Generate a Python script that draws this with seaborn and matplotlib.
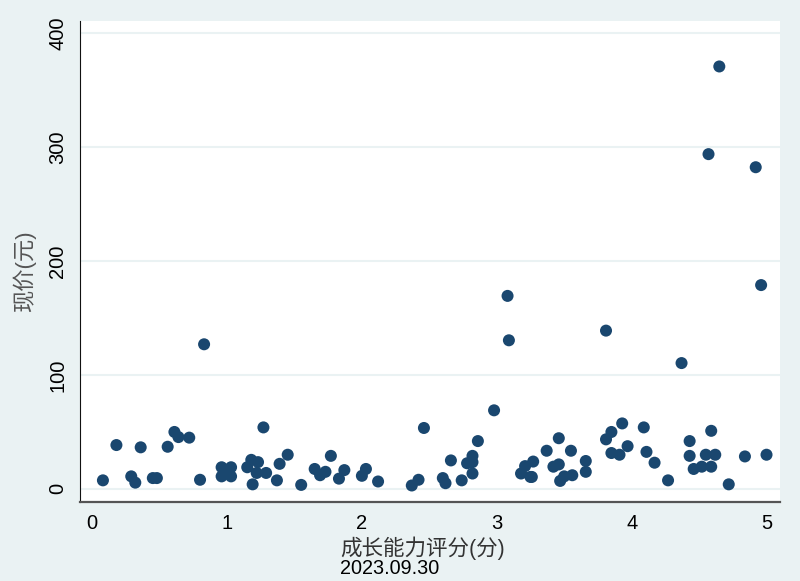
import pandas as pd
import seaborn as sns
import matplotlib.pyplot as plt

# 成长能力评分 vs 现价
score = [0.08, 0.18, 0.29, 0.32, 0.36, 0.45, 0.48, 0.56, 0.61, 0.64, 0.72, 0.80, 0.83,
         0.96, 1.03, 0.96, 1.03, 1.00, 1.15, 1.18, 1.23, 1.19, 1.22, 1.29, 1.27, 1.39,
         1.37, 1.45, 1.55, 1.65, 1.69, 1.73, 1.77, 1.83, 1.87, 2.00, 2.03, 2.12,
         2.37, 2.42, 2.46, 2.60, 2.62, 2.66, 2.74, 2.78, 2.82, 2.82, 2.82, 2.86,
         2.98, 3.08, 3.09, 3.18, 3.21, 3.25, 3.27, 3.26, 3.37, 3.42, 3.46, 3.46,
         3.47, 3.50, 3.56, 3.55, 3.66, 3.66, 3.81, 3.81, 3.85, 3.85, 3.91, 3.93,
         3.97, 4.09, 4.11, 4.17, 4.27, 4.37, 4.43, 4.43, 4.46, 4.52, 4.59, 4.55,
         4.62, 4.59, 4.72, 4.84, 5.00, 4.65, 4.57, 4.92, 4.96]
price = [7.5, 38.5, 11, 5.5, 36.5, 9.5, 9.5, 37, 50, 45.5, 45, 8, 127,
         19, 19, 11, 11, 15, 19, 25.5, 23.5, 4, 14, 14, 54, 22,
         7.5, 30, 3.5, 17.5, 12, 15, 29, 9, 16.5, 11.5, 17.5, 6.5,
         3, 8, 53.5, 9.5, 5, 25, 7.5, 22.5, 29, 23.5, 13.5, 42,
         69, 169.5, 130.5, 13.5, 20, 10.5, 24, 10.5, 33.5, 19.5, 21.5, 44.5,
         7, 11, 12, 33.5, 24.5, 15, 139, 43.5, 50, 31.5, 30, 57.5,
         37.5, 54, 32.5, 23, 7.5, 110.5, 42, 29, 17.5, 19.5, 19.5, 30,
         30, 51, 4, 28.5, 30, 371, 294, 282.5, 179]

df = pd.DataFrame({'score': score, 'price': price})

sns.set_style('white')
plt.rcParams['font.family'] = ['Liberation Sans', 'Noto Sans CJK SC', 'DejaVu Sans']

fig = plt.figure(figsize=(8, 5.81), dpi=100, facecolor='#EAF2F3')
ax = fig.add_axes([0.1, 0.136, 0.875, 0.828])
ax.set_facecolor('white')

sns.scatterplot(data=df, x='score', y='price', color='#1A476F', s=75,
                edgecolor='none', linewidth=0, ax=ax)

ax.set_xlim(-0.09, 5.1)
ax.set_ylim(-11.5, 411)
ax.set_xticks([0, 1, 2, 3, 4, 5])
ax.set_yticks([0, 100, 200, 300, 400])
ax.yaxis.grid(True, color='#EAF2F3', linewidth=1.5)
ax.set_axisbelow(True)

for side in ['top', 'right']:
    ax.spines[side].set_visible(False)
ax.spines['left'].set_color('#111111')
ax.spines['bottom'].set_color('#555555')
ax.spines['bottom'].set_linewidth(1.6)

ax.tick_params(axis='both', direction='out', length=7, width=1,
               color='#333333', labelsize=14.5, labelcolor='black', pad=2)
plt.setp(ax.get_yticklabels(), rotation=90, va='center')

ax.set_xlabel('成长能力评分(分)', fontsize=15.5, color='#333333')
ax.xaxis.set_label_coords(0.489, -0.072)
ax.set_ylabel('现价(元)', fontsize=16, color='#555555')
ax.yaxis.set_label_coords(-0.063, 0.48)
fig.text(0.425, 0.006, '2023.09.30', fontsize=14.3, ha='left', va='bottom', color='black')

plt.savefig('out.png', dpi=100, facecolor=fig.get_facecolor())
